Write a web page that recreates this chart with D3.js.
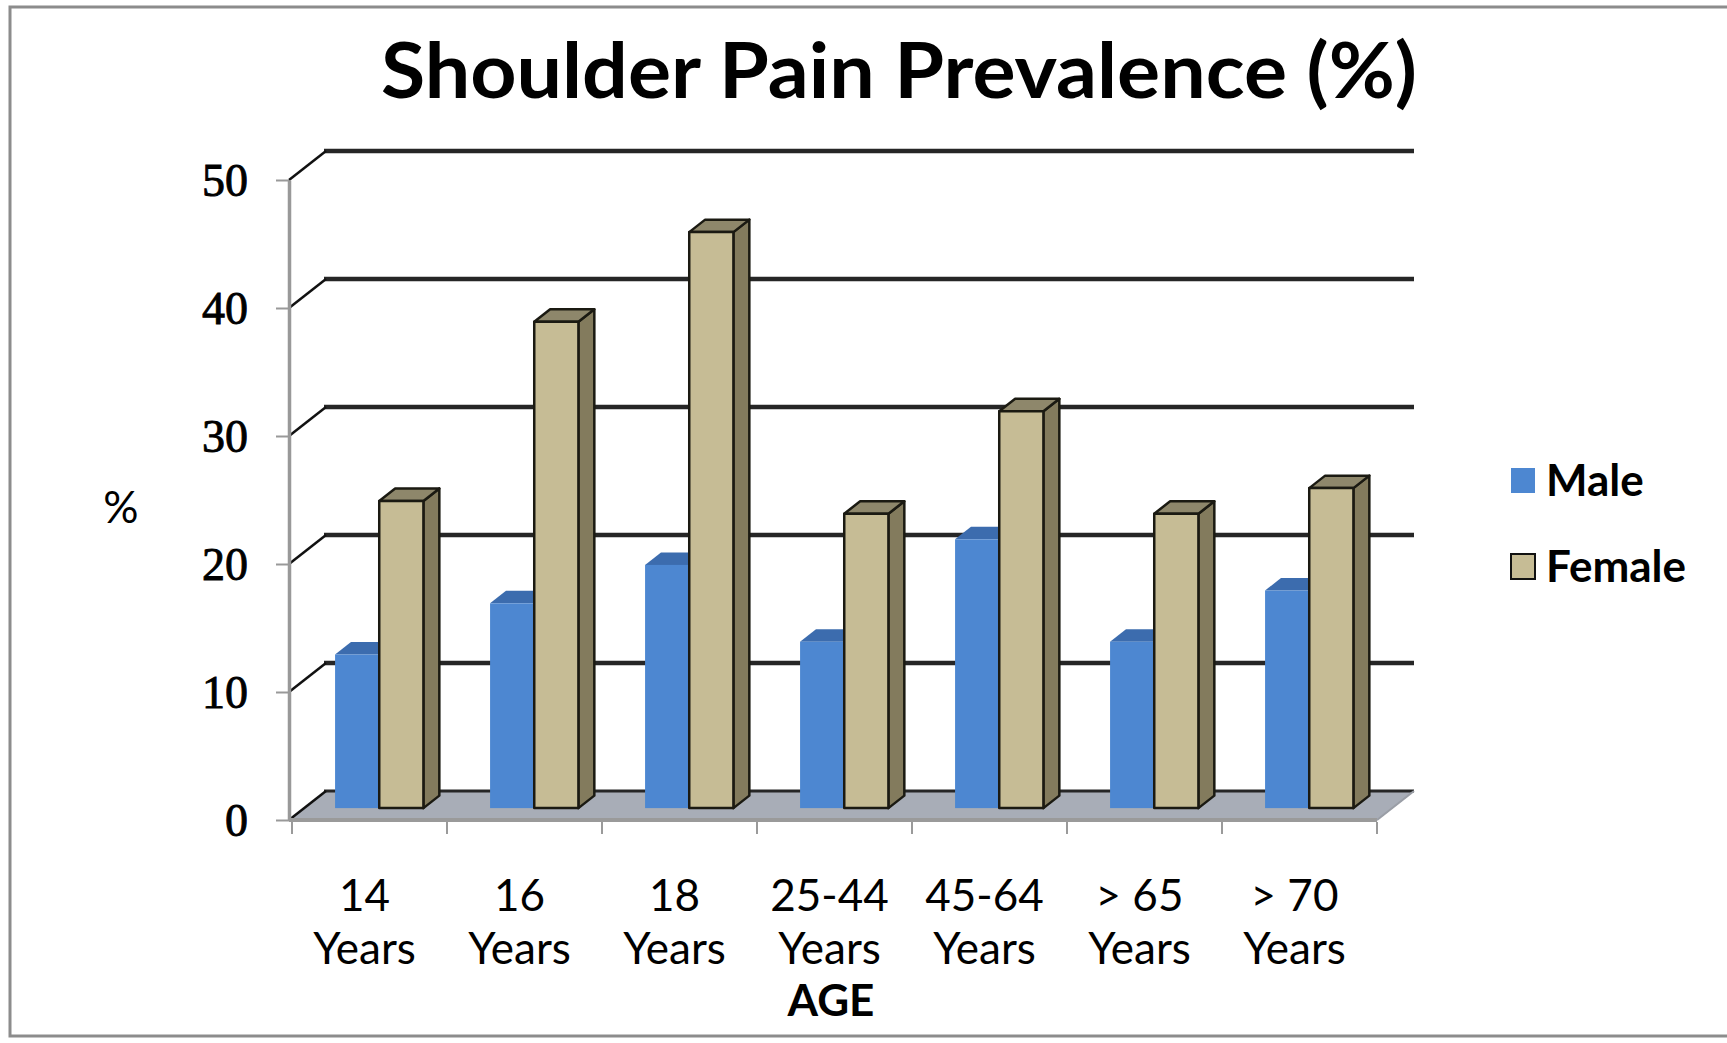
<!DOCTYPE html>
<html>
  <head>
    <script src="https://d3js.org/d3.v7.min.js"></script>
    <style>
      body {margin: 0; background: #fff;}
      text {fill: #000;}
    </style>
  </head>
  <body>
    <svg width="1727" height="1043"></svg>
  </body>
  <script>
    // data
    const categories = ["14 Years", "16 Years", "18 Years", "25-44 Years", "45-64 Years", "> 65 Years", "> 70 Years"];
    const series = ["Male", "Female"];
    const male = [12, 16, 19, 13, 21, 13, 17];
    const female = [24, 38, 45, 23, 31, 23, 25];
    const yTicks = [0, 10, 20, 30, 40, 50];

    const svg = d3.select("svg");

    // fake 3d: depth vector for the whole floor
    const DX = 37, DY = -29;
    const zFront = 0.41, zDepth = 0.43;

    const y = d3.scaleLinear().domain([0, 50]).range([820, 180]);
    const x0 = d3.scaleBand().domain(categories).range([292, 1377]);
    const bw = x0.bandwidth();
    const x1 = d3.scaleBand().domain(series).range([0.18 * bw, 0.75 * bw]);

    const colors = {
      Male: {front: "#4d87d1", top: "#3c6cae", side: "#3a67a6", stroke: "none"},
      Female: {front: "#c6bc95", top: "#8e876b", side: "#837b5d", stroke: "#1b1a12"}
    };

    // outer frame
    svg.append("rect")
      .attr("x", 10).attr("y", 7)
      .attr("width", 1740).attr("height", 1029)
      .attr("fill", "none").attr("stroke", "#8c8c8c").attr("stroke-width", 3);

    // title
    svg.append("text")
      .attr("x", 899).attr("y", 98)
      .attr("text-anchor", "middle")
      .attr("font-family", "Lato, 'Open Sans', sans-serif")
      .attr("font-weight", "bold")
      .attr("font-size", 76)
      .attr("textLength", 1036)
      .attr("lengthAdjust", "spacingAndGlyphs")
      .text("Shoulder Pain Prevalence (%)");

    const left = x0.range()[0] - 3, right = x0.range()[1];

    // floor
    svg.append("path")
      .attr("d", d3.line()([
        [left, y(0)], [right, y(0)], [right + DX, y(0) + DY], [left + DX, y(0) + DY]
      ]) + "Z")
      .attr("fill", "#a8adb7")
      .attr("stroke", "#8f939b").attr("stroke-width", 1);

    // back wall gridlines + side wall diagonals
    const grid = svg.append("g");
    yTicks.forEach(function(v) {
      grid.append("line")
        .attr("x1", left + DX - 2).attr("x2", right + DX)
        .attr("y1", y(v) + DY).attr("y2", y(v) + DY)
        .attr("stroke", "#262626")
        .attr("stroke-width", v == 0 ? 3 : 4.5);
      grid.append("line")
        .attr("x1", left).attr("y1", y(v))
        .attr("x2", left + DX).attr("y2", y(v) + DY)
        .attr("stroke", "#111").attr("stroke-width", 2.5);
    });

    // floor front edge
    svg.append("line")
      .attr("x1", left).attr("x2", right)
      .attr("y1", y(0)).attr("y2", y(0))
      .attr("stroke", "#9a9a9a").attr("stroke-width", 4);
    svg.append("line")
      .attr("x1", right).attr("y1", y(0))
      .attr("x2", right + DX).attr("y2", y(0) + DY)
      .attr("stroke", "#9a9ea6").attr("stroke-width", 2);

    // category ticks at band edges
    const edges = categories.map(function(c) {return x0(c)}).concat([right]);
    svg.append("g").selectAll("line")
      .data(edges)
      .enter()
      .append("line")
      .attr("x1", function(d) {return d}).attr("x2", function(d) {return d})
      .attr("y1", y(0) + 2).attr("y2", y(0) + 14)
      .attr("stroke", "#9a9a9a").attr("stroke-width", 2);

    // y axis
    const yAxis = d3.axisLeft(y).tickValues(yTicks).tickSize(13).tickSizeOuter(0).tickPadding(28);
    const ag = svg.append("g")
      .attr("transform", "translate(" + left + ",0)")
      .call(yAxis);
    ag.select(".domain").attr("stroke", "#999").attr("stroke-width", 3.5);
    ag.selectAll(".tick line").attr("stroke", "#999").attr("stroke-width", 2);
    ag.selectAll(".tick text")
      .attr("font-family", "'Liberation Serif', serif")
      .attr("font-size", 46)
      .attr("stroke", "#000")
      .attr("stroke-width", 0.9)
      .attr("dy", "0.34em");

    // bars
    const bars = [];
    categories.forEach(function(c, i) {
      bars.push({cat: c, s: "Male", v: male[i]});
      bars.push({cat: c, s: "Female", v: female[i]});
    });

    const sdx = DX * zDepth, sdy = DY * zDepth;
    const bg = svg.append("g");
    bars.forEach(function(d) {
      const col = colors[d.s];
      const w = x1.bandwidth();
      const fx = x0(d.cat) + x1(d.s) + DX * zFront;
      const ft = y(d.v) + DY * zFront;
      const fb = y(0) + DY * zFront;
      const g = bg.append("g")
        .attr("stroke", col.stroke)
        .attr("stroke-width", 2.5)
        .attr("stroke-linejoin", "round");
      g.append("path")
        .attr("d", d3.line()([[fx + w, ft], [fx + w + sdx, ft + sdy], [fx + w + sdx, fb + sdy], [fx + w, fb]]) + "Z")
        .attr("fill", col.side);
      g.append("path")
        .attr("d", d3.line()([[fx, ft], [fx + w, ft], [fx + w + sdx, ft + sdy], [fx + sdx, ft + sdy]]) + "Z")
        .attr("fill", col.top);
      g.append("rect")
        .attr("x", fx).attr("y", ft)
        .attr("width", w).attr("height", fb - ft)
        .attr("fill", col.front);
    });

    // category labels
    const lab = svg.append("g")
      .attr("font-family", "Lato, sans-serif")
      .attr("font-size", 44)
      .attr("text-anchor", "middle");
    categories.forEach(function(c) {
      const cx = x0(c) + bw / 2 - 5;
      lab.append("text").attr("x", cx).attr("y", 911).text(c.replace(" Years", ""));
      lab.append("text").attr("x", cx).attr("y", 964).text("Years");
    });

    svg.append("text")
      .attr("x", 831).attr("y", 1016)
      .attr("text-anchor", "middle")
      .attr("font-family", "Lato, sans-serif")
      .attr("font-weight", "bold")
      .attr("font-size", 44)
      .text("AGE");

    svg.append("text")
      .attr("x", 121).attr("y", 523)
      .attr("text-anchor", "middle")
      .attr("font-family", "Lato, sans-serif")
      .attr("font-size", 44)
      .text("%");

    // legend
    const leg = svg.append("g");
    series.forEach(function(s, i) {
      const ly = 468 + i * 86;
      leg.append("rect")
        .attr("x", 1511).attr("y", ly)
        .attr("width", 24).attr("height", 25)
        .attr("fill", colors[s].front)
        .attr("stroke", colors[s].stroke == "none" ? "none" : "#111")
        .attr("stroke-width", 2);
      leg.append("text")
        .attr("x", 1546).attr("y", ly + 28)
        .attr("font-family", "Lato, sans-serif")
        .attr("font-weight", "bold")
        .attr("font-size", 44)
        .text(s);
    });
  </script>
</html>
